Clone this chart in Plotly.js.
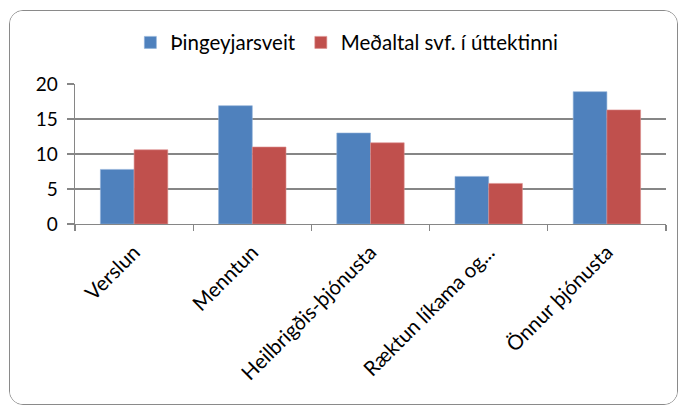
<!DOCTYPE html>
<html>
<head>
<meta charset="utf-8">
<script src="https://cdn.plot.ly/plotly-3.0.1.min.js"></script>
<style>
  html, body { margin: 0; padding: 0; background: #ffffff; width: 678px; height: 408px; overflow: hidden; }
  #frame { position: absolute; left: 9px; top: 10px; width: 667px; height: 393px; border: 1px solid #8a8a8a; border-radius: 14px; overflow: hidden; background: #ffffff; }
  #chart { width: 667px; height: 393px; }
</style>
</head>
<body>
<div id="frame"><div id="chart"></div></div>
<script>
const categories = ["Verslun", "Menntun", "Heilbrigðis-þjónusta", "Ræktun líkama og...", "Önnur þjónusta"];
const seriesNames = ["Þingeyjarsveit", "Meðaltal svf. í úttektinni"];
const thingeyjarsveit = [7.8, 16.9, 13.0, 6.8, 18.9];
const medaltal = [10.6, 11.0, 11.6, 5.8, 16.3];
const yTicks = [0, 5, 10, 15, 20];

const font = "Lato, 'Open Sans', sans-serif";
const traces = [
  { type: "bar", name: seriesNames[0], x: categories, y: thingeyjarsveit,
    marker: { color: "#4F81BD", line: { color: "#8fb0d8", width: 0.6 } } },
  { type: "bar", name: seriesNames[1], x: categories, y: medaltal,
    marker: { color: "#C0504D", line: { color: "#dc8f8d", width: 0.6 } } }
];

const layout = {
  width: 667, height: 393,
  margin: { l: 65, r: 11, t: 71, b: 180 },
  paper_bgcolor: "#ffffff", plot_bgcolor: "#ffffff",
  font: { family: font, size: 16, color: "#000000" },
  barmode: "group", bargap: 0.43, bargroupgap: 0,
  showlegend: true,
  legend: { orientation: "h", x: 0.46, xanchor: "center", y: 1.296, yanchor: "middle",
            font: { family: font, size: 20.5, color: "#000000" }, itemclick: false,
            traceorder: "normal", itemwidth: 30, tracegroupgap: 0 },
  xaxis: { type: "category", showline: true, linecolor: "#868686", linewidth: 1.3,
           ticks: "outside", tickson: "boundaries", ticklen: 6, tickcolor: "#868686", tickwidth: 1.3,
           tickangle: -45, ticklabelstandoff: 7, automargin: false,
           tickfont: { family: font, size: 20.5, color: "#000000" },
           showgrid: false, zeroline: false, fixedrange: true },
  yaxis: { range: [0, 20], tickvals: yTicks, showline: true, linecolor: "#868686", linewidth: 1.3,
           ticks: "outside", ticklen: 7, tickcolor: "#868686", tickwidth: 1.3,
           showgrid: true, gridcolor: "#868686", gridwidth: 1.3, zeroline: false,
           ticklabelstandoff: 5, automargin: false,
           tickfont: { family: font, size: 19, color: "#000000" }, fixedrange: true }
};

Plotly.newPlot("chart", traces, layout, { displayModeBar: false, staticPlot: true });
</script>
</body>
</html>
